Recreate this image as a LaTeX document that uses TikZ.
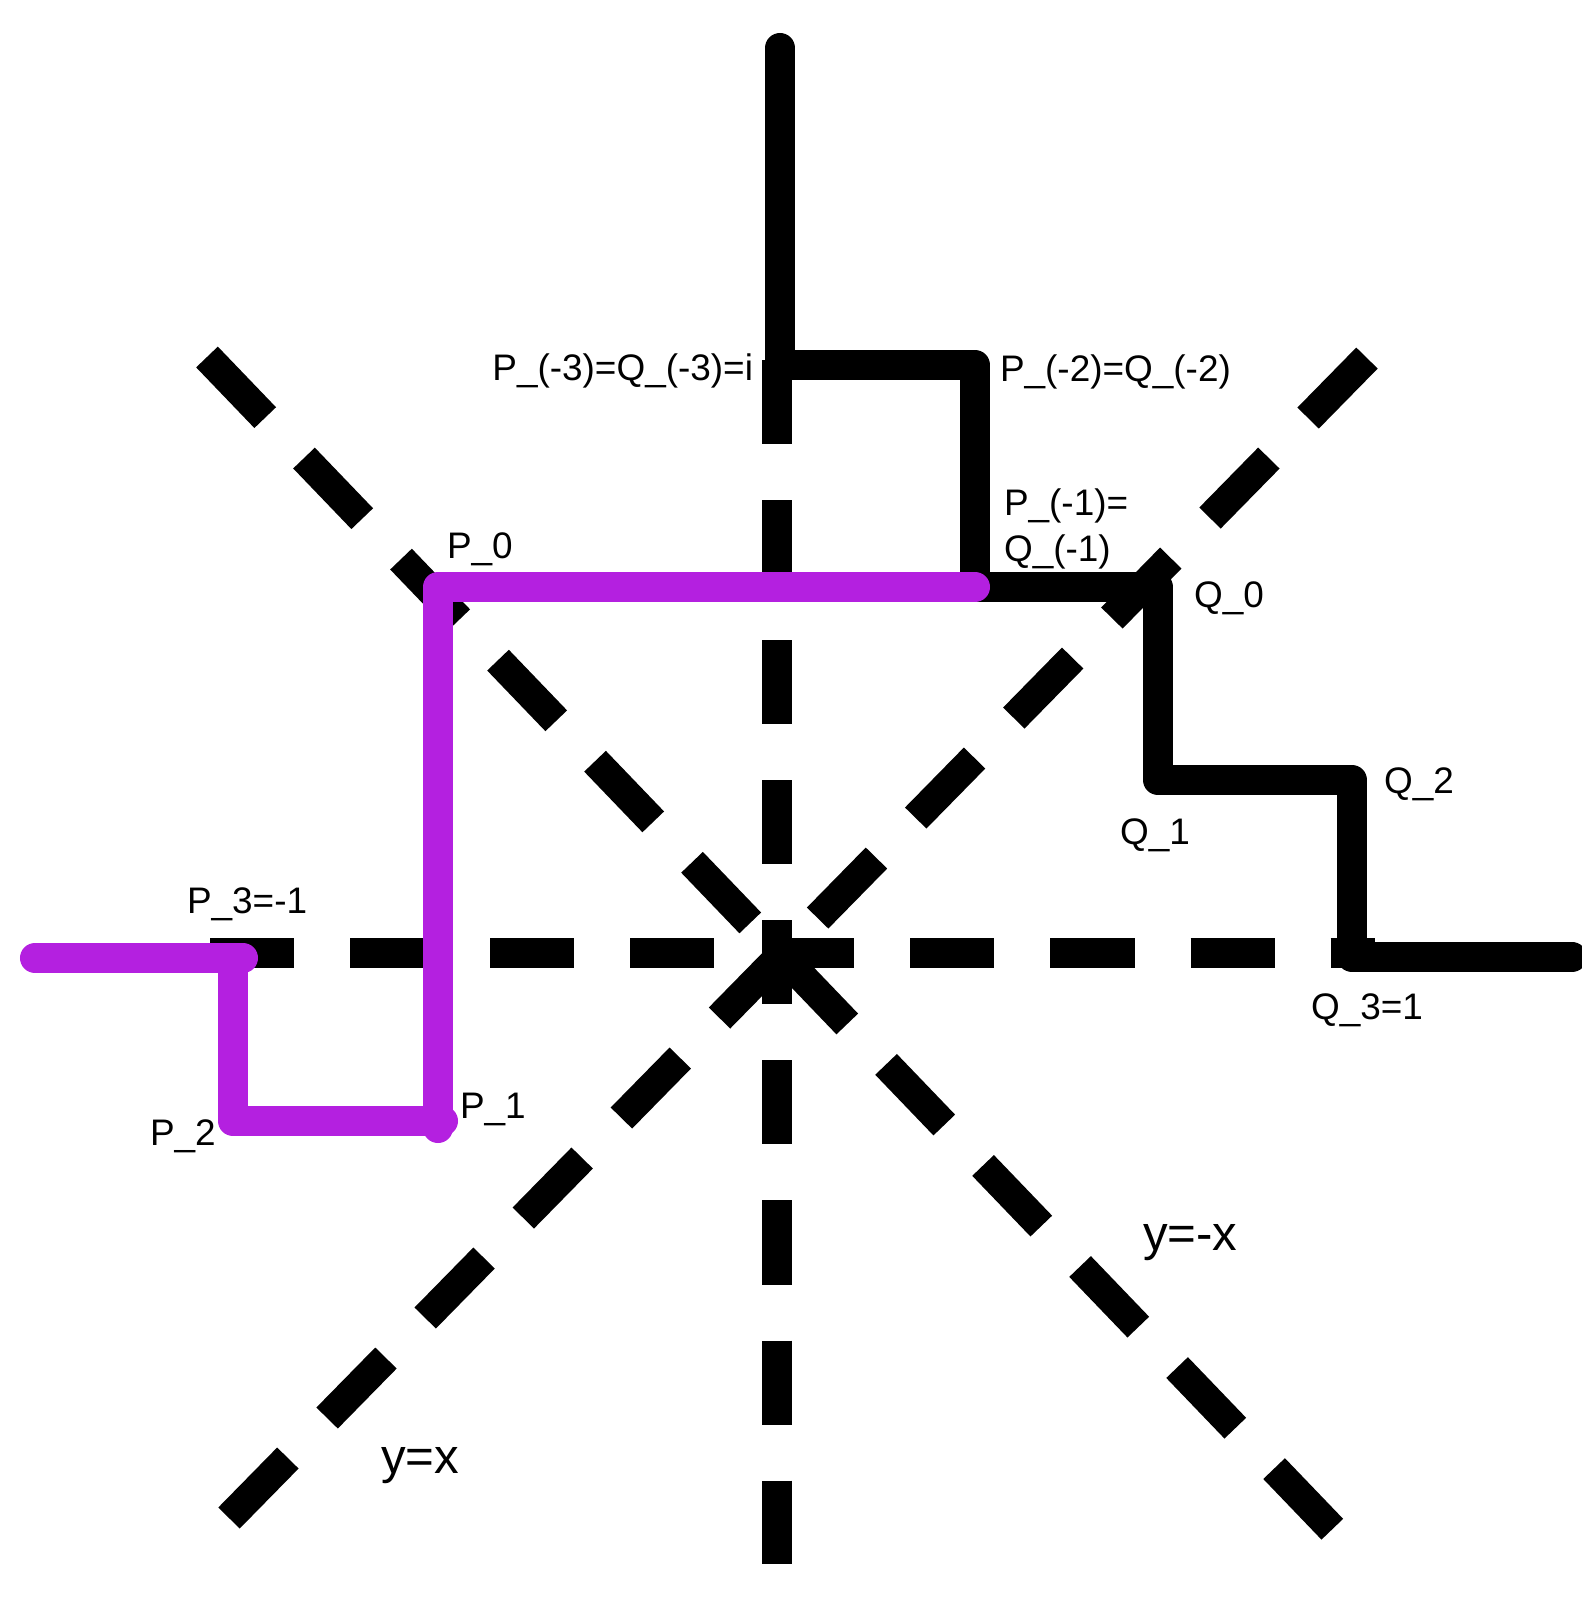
\documentclass[tikz,border=0pt]{standalone}
\usepackage{fontspec}
\setmainfont{Liberation Sans}
\usepackage{xcolor}
\definecolor{pviolet}{RGB}{180,32,224}

\begin{document}
\begin{tikzpicture}[x=0.01cm, y=-0.01cm, line width=0.3cm]
\tikzstyle{axis}=[draw=black, line cap=butt, dash pattern=on 0.84cm off 0.56cm]
\tikzstyle{walk}=[draw=black, line cap=round, line join=round]
\tikzstyle{pwalk}=[walk, draw=pviolet]
\tikzstyle{lbl}=[inner sep=0pt, font=\fontsize{10.5}{13}\selectfont]
\tikzstyle{big}=[inner sep=0pt, font=\fontsize{14}{16}\selectfont]
  \useasboundingbox (0,0) rectangle (1582,1603);
  % axes and diagonals
  \coordinate (hL)  at (210,953);
  \coordinate (hR)  at (1375,953);
  \coordinate (vT)  at (777,360);
  \coordinate (vB)  at (777,1564);
  \coordinate (dBL) at (229,1518);
  \coordinate (dTR) at (1368,357);
  \coordinate (dTL) at (207,357);
  \coordinate (dBR) at (1334,1531);
  \path[axis] (hL)  -- (hR);
  \path[axis] (vT)  -- (vB);
  \path[axis] (dBL) -- (dTR);
  \path[axis] (dTL) -- (dBR);
  % the two walks
  \coordinate (Qtop) at (780,48);
  \coordinate (Pm3)  at (780,365);
  \coordinate (Pm2)  at (975,365);
  \coordinate (Pm1)  at (975,587);
  \coordinate (Q0)   at (1158,587);
  \coordinate (Q1)   at (1158,780);
  \coordinate (Q2)   at (1352,780);
  \coordinate (Q3)   at (1352,957);
  \coordinate (Qend) at (1572,957);
  \coordinate (P0)   at (438,587);
  \coordinate (P1v)  at (438,1128);
  \coordinate (P1h)  at (443,1121);
  \coordinate (P2)   at (233,1121);
  \coordinate (P3)   at (233,958);
  \coordinate (P3h)  at (243,958);
  \coordinate (Pend) at (35,958);
  \path[walk]  (Qtop) -- (Pm3) -- (Pm2) -- (Pm1) -- (Q0) -- (Q1) -- (Q2) -- (Q3) -- (Qend);
  \path[pwalk] (Pm1) -- (P0) -- (P1v);
  \path[pwalk] (P1h) -- (P2) -- (P3);
  \path[pwalk] (P3h) -- (Pend);
  % labels
  \node[lbl, anchor=base east] (lPm3) at (768,380) {P\_(-3)=Q\_(-3)=i};
  \node[lbl, anchor=base west] (lPm2) at (985,381) {P\_(-2)=Q\_(-2)};
  \node[lbl, anchor=north west, align=left] (lPm1) at (989,474) {P\_(-1)=\\Q\_(-1)};
  \node[lbl, anchor=base west] (lP0) at (432,558) {P\_0};
  \node[lbl, anchor=base west] (lQ0) at (1179,607) {Q\_0};
  \node[lbl, anchor=base west] (lQ2) at (1369,793) {Q\_2};
  \node[lbl, anchor=base west] (lQ1) at (1105,844) {Q\_1};
  \node[lbl, anchor=base west] (lQ3) at (1296,1019) {Q\_3=1};
  \node[lbl, anchor=base west] (lP3) at (172,913) {P\_3=-1};
  \node[lbl, anchor=base west] (lP2) at (135,1145) {P\_2};
  \node[lbl, anchor=base west] (lP1) at (445,1118) {P\_1};
  \node[big, anchor=base west] (lymx) at (1128,1250) {y=-x};
  \node[big, anchor=base west] (lyx)  at (366,1473) {y=x};
\end{tikzpicture}
\end{document}
